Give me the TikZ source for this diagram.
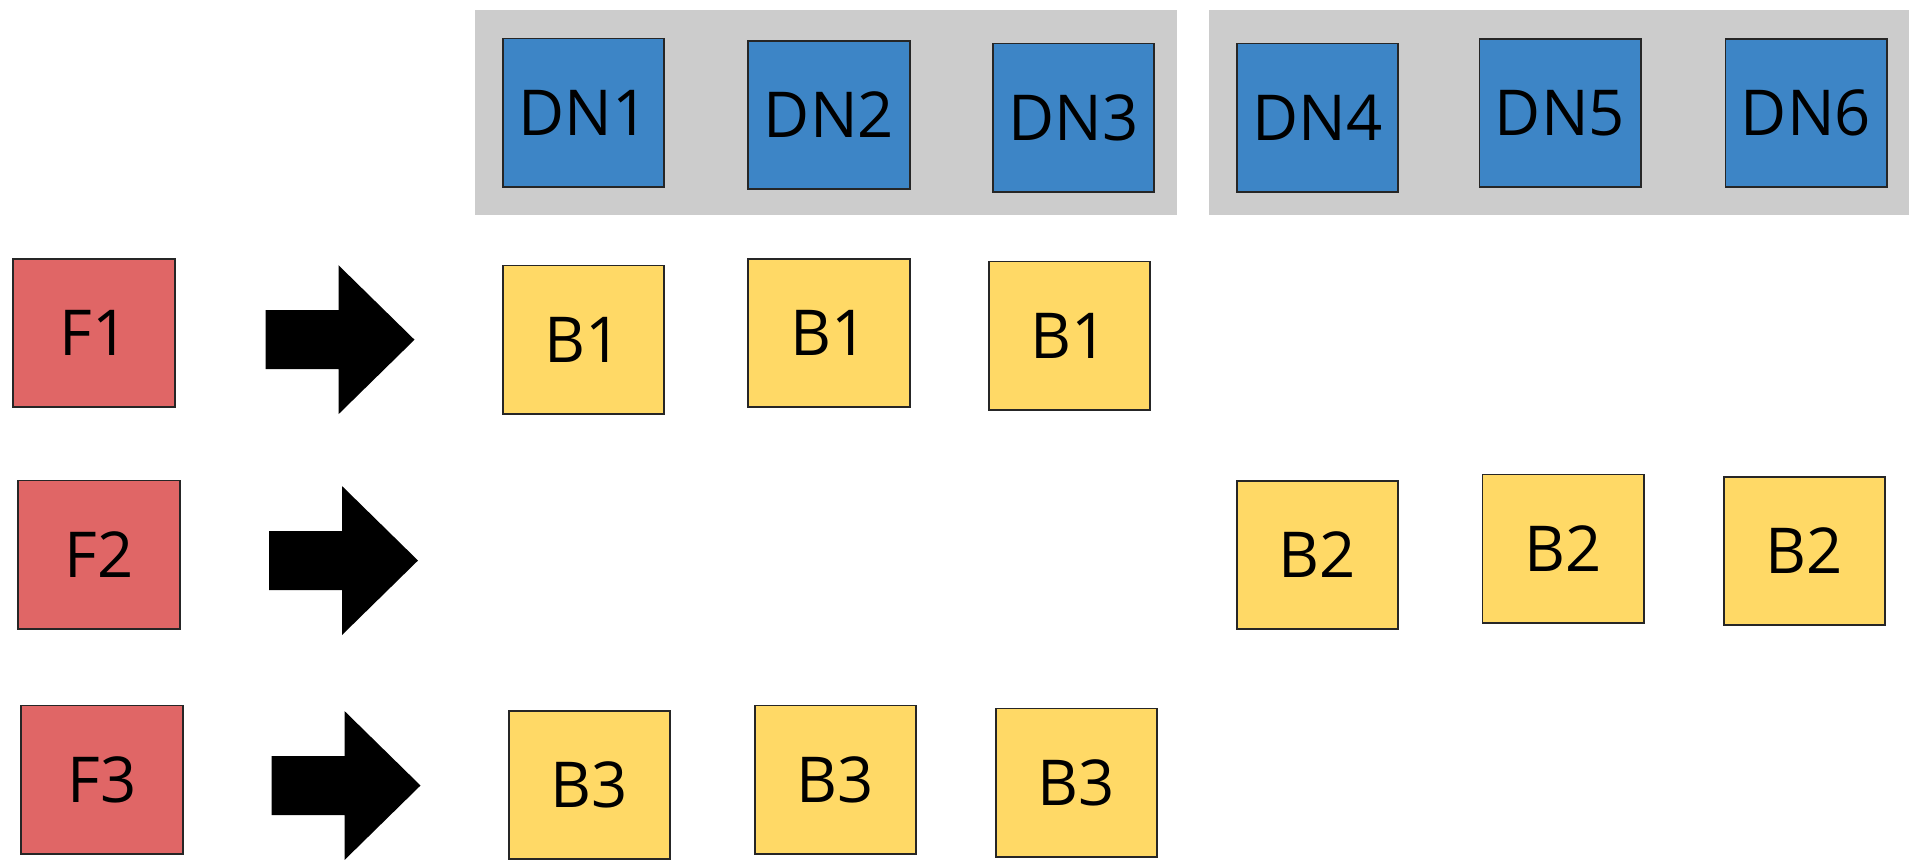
\documentclass[tikz,border=0pt]{standalone}
\usepackage{fontspec}
\setmainfont{Open Sans}
\definecolor{nodeblue}{HTML}{3D85C6}
\definecolor{filered}{HTML}{E06666}
\definecolor{blockyellow}{HTML}{FFD966}
\definecolor{rackgray}{HTML}{CCCCCC}
\tikzset{
  cell/.style={rectangle, draw=black!85, line width=0.55pt, inner sep=0pt,
    minimum width=1.61cm, minimum height=1.48cm,
    font=\fontsize{18}{21}\selectfont},
  datanode/.style={cell, fill=nodeblue},
  filebox/.style={cell, fill=filered},
  blockbox/.style={cell, fill=blockyellow},
  rack/.style={fill=rackgray, draw=none},
  pics/blockarrow/.style={code={
    \fill[black] (0,-29.5) -- (73,-29.5) -- (73,-74.5) -- (149,0)
      -- (73,74.5) -- (73,29.5) -- (0,29.5) -- cycle;
  }}
}
\begin{document}
\begin{tikzpicture}[x=0.01cm, y=-0.01cm]
  \useasboundingbox (0,0) rectangle (1909,859);

  % two racks of data nodes
  \fill[rack] (475,10) rectangle (1177,215);
  \fill[rack] (1209,10) rectangle (1909,215);

  \node[datanode] (dn1) at (583.5,112.5) {DN1};
  \node[datanode] (dn2) at (829,115)     {DN2};
  \node[datanode] (dn3) at (1073.5,117.5) {DN3};
  \node[datanode] (dn4) at (1317.5,117.5) {DN4};
  \node[datanode] (dn5) at (1560,113)    {DN5};
  \node[datanode] (dn6) at (1806,113)    {DN6};

  % files
  \node[filebox] (f1) at (94,333)    {F1};
  \node[filebox] (f2) at (99,554.5)  {F2};
  \node[filebox] (f3) at (102,779.5) {F3};

  % block arrows
  \pic at (265.5,339.7) {blockarrow};
  \pic at (269,560.5)   {blockarrow};
  \pic at (271.5,785.5) {blockarrow};

  % replicated blocks
  \node[blockbox] (b1a) at (583.5,339.5) {B1};
  \node[blockbox] (b1b) at (829,333)     {B1};
  \node[blockbox] (b1c) at (1069.5,335.5) {B1};

  \node[blockbox] (b2a) at (1317.5,555)  {B2};
  \node[blockbox] (b2b) at (1563,548.5)  {B2};
  \node[blockbox] (b2c) at (1804.5,551)  {B2};

  \node[blockbox] (b3a) at (589.5,785) {B3};
  \node[blockbox] (b3b) at (835.5,779.5) {B3};
  \node[blockbox] (b3c) at (1076.5,782.5) {B3};
\end{tikzpicture}
\end{document}
